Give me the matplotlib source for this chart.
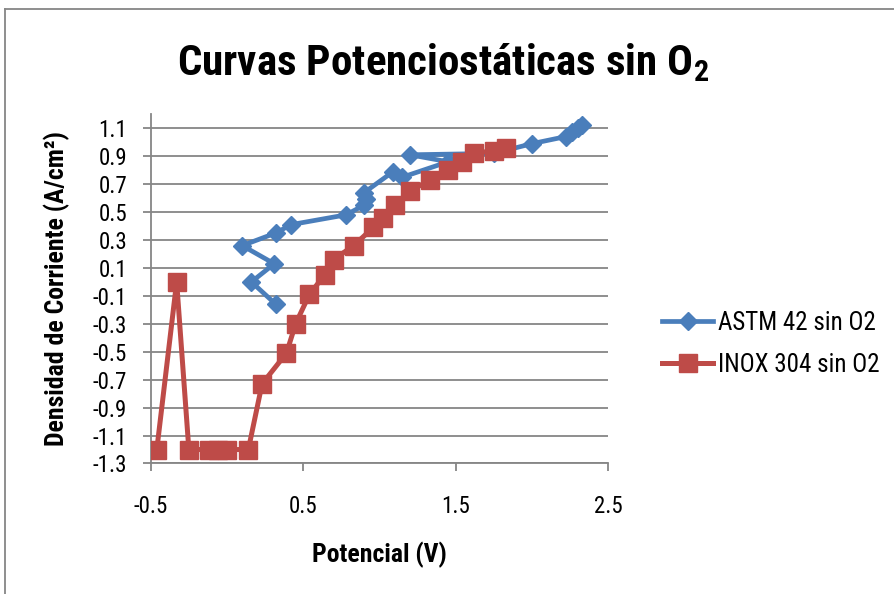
import matplotlib
matplotlib.use('Agg')
import matplotlib.pyplot as plt
from matplotlib.lines import Line2D

plt.rcParams['font.family'] = ['Roboto Condensed', 'Liberation Sans', 'DejaVu Sans']
plt.rcParams['mathtext.fontset'] = 'custom'
plt.rcParams['mathtext.rm'] = 'Roboto Condensed:bold'
plt.rcParams['mathtext.bf'] = 'Roboto Condensed:bold'
plt.rcParams['mathtext.it'] = 'Roboto Condensed:bold'

# ASTM 42 sin O2 (blue)
astm_x = [0.32, 0.16, 0.31, 0.10, 0.32, 0.42, 0.78, 0.90, 0.91, 0.90, 1.09, 1.15,
          1.45, 1.20, 1.75, 2.00, 2.22, 2.26, 2.30, 2.33]
astm_y = [-0.16, 0.00, 0.13, 0.26, 0.35, 0.41, 0.48, 0.55, 0.59, 0.64, 0.79, 0.75,
          0.86, 0.91, 0.92, 0.99, 1.04, 1.07, 1.10, 1.12]

# INOX 304 sin O2 (red)
inox_x = [-0.46, -0.33, -0.25, -0.12, -0.06, 0.00, 0.14, 0.23, 0.39, 0.45, 0.54, 0.64,
          0.70, 0.83, 0.96, 1.02, 1.10, 1.20, 1.33, 1.45, 1.54, 1.62, 1.75, 1.83]
inox_y = [-1.20, 0.00, -1.20, -1.20, -1.20, -1.20, -1.20, -0.73, -0.51, -0.30, -0.09, 0.05,
          0.16, 0.26, 0.39, 0.46, 0.55, 0.65, 0.73, 0.80, 0.86, 0.92, 0.94, 0.96]

y_ticks = [1.1, 0.9, 0.7, 0.5, 0.3, 0.1, -0.1, -0.3, -0.5, -0.7, -0.9, -1.1, -1.3]
y_labels = ['1.1', '0.9', '0.7', '0.5', '0.3', '0.1', '-0.1', '-0.3', '-0.5', '-0.7',
            '-0.9', '-1.1', '-1.3']
x_ticks = [-0.5, 0.5, 1.5, 2.5]
x_labels = ['-0.5', '0.5', '1.5', '2.5']

BLUE = '#4A7EBB'
RED = '#BE4B48'
GRID = '#868686'

fig = plt.figure(figsize=(8.95, 5.94), dpi=100)
ax = fig.add_axes([0.1684, 0.2197, 0.6797 - 0.1684, 0.8076 - 0.2197])

ax.plot(astm_x, astm_y, color=BLUE, lw=3.4, marker='D', ms=9.5,
        label='ASTM 42 sin O2', zorder=3)
ax.plot(inox_x, inox_y, color=RED, lw=3.6, marker='s', ms=13,
        label='INOX 304 sin O2', zorder=3)

ax.set_xlim(-0.5, 2.5)
ax.set_ylim(-1.3, 1.2)
ax.set_xticks(x_ticks)
ax.set_xticklabels(x_labels)
ax.set_yticks(y_ticks)
ax.set_yticklabels(y_labels)
ax.yaxis.grid(True, color=GRID, lw=1.3)
ax.set_axisbelow(True)

for s in ['top', 'right']:
    ax.spines[s].set_visible(False)
for s in ['left', 'bottom']:
    ax.spines[s].set_color(GRID)
    ax.spines[s].set_linewidth(1.3)
ax.tick_params(axis='both', colors=GRID, length=6, width=1.3, direction='out',
               labelcolor='black', labelsize=16.5)
ax.tick_params(axis='y', pad=11)
ax.tick_params(axis='x', pad=16.5)

ax.set_xlabel('Potencial (V)', fontsize=18.5, fontweight='bold', labelpad=17)
ax.set_ylabel('Densidad de Corriente (A/cm²)', fontsize=18.5, fontweight='bold', labelpad=16)

fig.text(443 / 895, 1 - 75 / 594, 'Curvas Potenciostáticas sin O$_2$', ha='center',
         va='baseline', fontsize=31, fontweight='bold')

ax.legend(loc='center left', bbox_to_anchor=(662 / 895, 0.4217), bbox_transform=fig.transFigure,
          frameon=False, fontsize=18, numpoints=1, handlelength=2.05, handletextpad=0.2,
          labelspacing=0.72, borderpad=0, borderaxespad=0)

# outer chart border
fig.add_artist(Line2D([5 / 895, 5 / 895], [0, 1 - 9 / 594], transform=fig.transFigure,
                      color=GRID, lw=1.3))
fig.add_artist(Line2D([5 / 895, 1], [1 - 9 / 594, 1 - 9 / 594], transform=fig.transFigure,
                      color=GRID, lw=1.3))

fig.savefig('out.png', dpi=100)
